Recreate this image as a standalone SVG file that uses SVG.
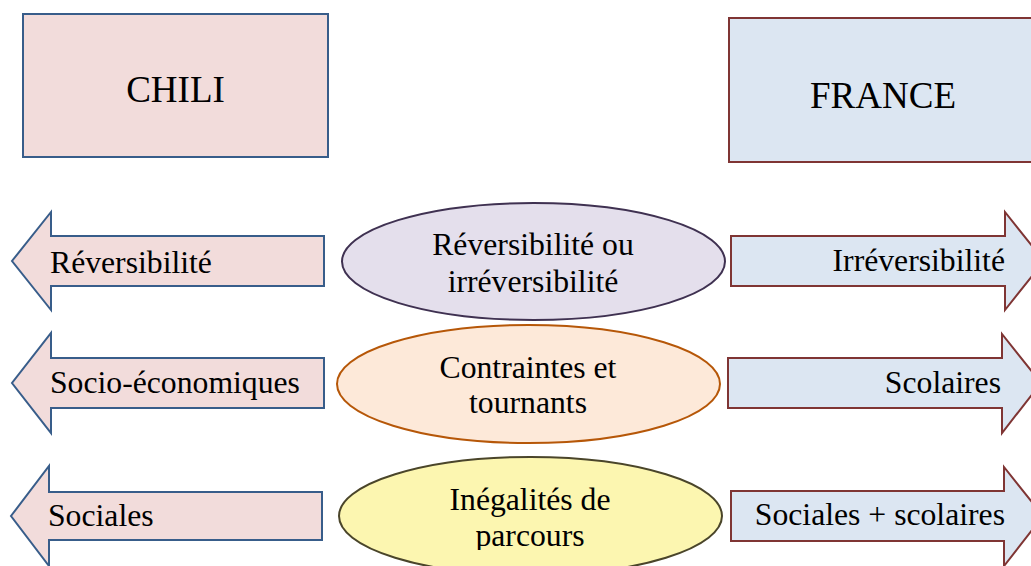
<svg xmlns="http://www.w3.org/2000/svg" width="1031" height="566" viewBox="0 0 1031 566">
<style>
.t{font-family:"Liberation Serif","Times New Roman",serif;font-size:31.7px;fill:#000}
.h{font-family:"Liberation Serif","Times New Roman",serif;font-size:37px;fill:#000}
.cl{fill:#F2DCDB;stroke:#385D8A;stroke-width:2}
.fr{fill:#DCE6F2;stroke:#7F3534;stroke-width:2}
</style>
<defs>
<clipPath id="clip3"><rect x="330" y="450" width="400" height="100"/></clipPath>
</defs>
<rect width="1031" height="566" fill="#fff"/>
<g id="chili">
<rect class="cl" x="23" y="14" width="305" height="143"/>
<text class="h" x="175.5" y="102" text-anchor="middle">CHILI</text>
</g>
<g id="france">
<rect class="fr" x="729" y="18" width="307" height="144"/>
<text class="h" x="883" y="108" text-anchor="middle">FRANCE</text>
</g>
<g id="connectors">
<g id="arrow-chili-1">
<path class="cl" d="M324,236 L51,236 L51,212 L12,261 L51,310 L51,286 L324,286 Z"/>
<text class="t" x="50" y="273">Réversibilité</text>
</g>
<g id="arrow-chili-2">
<path class="cl" d="M324,358 L51,358 L51,333 L12,383 L51,433 L51,408 L324,408 Z"/>
<text class="t" x="50" y="393">Socio-économiques</text>
</g>
<g id="arrow-chili-3">
<path class="cl" d="M322,492 L49,492 L49,466 L11,516 L49,566 L49,540 L322,540 Z"/>
<text class="t" x="48" y="526">Sociales</text>
</g>
<g id="arrow-france-1">
<path class="fr" d="M731,236 L1005,236 L1005,212 L1044,261 L1005,310 L1005,286 L731,286 Z"/>
<text class="t" x="1005" y="271" text-anchor="end">Irréversibilité</text>
</g>
<g id="arrow-france-2">
<path class="fr" d="M728,358 L1002,358 L1002,334 L1041,383 L1002,433 L1002,408 L728,408 Z"/>
<text class="t" x="1001" y="393" text-anchor="end">Scolaires</text>
</g>
<g id="arrow-france-3">
<path class="fr" d="M731,491 L1004,491 L1004,467 L1043,516 L1004,566 L1004,541 L731,541 Z"/>
<text class="t" x="1005" y="525" text-anchor="end">Sociales + scolaires</text>
</g>
</g>
<g id="ellipse-1">
<ellipse cx="533.5" cy="261.5" rx="191.5" ry="58.5" fill="#E4DFEC" stroke="#3F3151" stroke-width="2"/>
<text class="t" x="533" y="255" text-anchor="middle">Réversibilité ou</text>
<text class="t" x="533" y="292" text-anchor="middle">irréversibilité</text>
</g>
<g id="ellipse-2">
<ellipse cx="528.5" cy="384" rx="191.5" ry="59" fill="#FDE9D9" stroke="#B65708" stroke-width="2"/>
<text class="t" x="528" y="378" text-anchor="middle">Contraintes et</text>
<text class="t" x="528" y="413" text-anchor="middle">tournants</text>
</g>
<g id="ellipse-3">
<ellipse cx="530.5" cy="516" rx="191.5" ry="59" fill="#FCF6B0" stroke="#4A452A" stroke-width="2"/>
<g clip-path="url(#clip3)">
<text class="t" x="530" y="510" text-anchor="middle">Inégalités de</text>
<text class="t" x="530" y="546" text-anchor="middle">parcours</text>
</g>
</g>
</svg>
